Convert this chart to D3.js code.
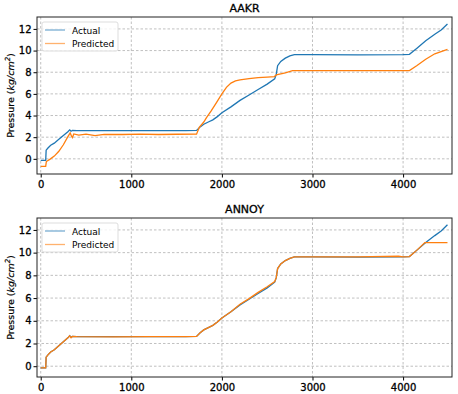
<!DOCTYPE html>
<html>
<head>
<meta charset="utf-8">
<script src="https://d3js.org/d3.v7.min.js"></script>
<style>
  body { margin: 0; background: #fff; }
  text { font-family: "DejaVu Sans", sans-serif; fill: #000; }
</style>
</head>
<body>
<div id="vis"></div>
<script>
  // time index / pressure readings
  var actualT = [0, 55, 60, 80, 110, 150, 200, 250, 300, 320, 335, 350, 400, 800, 1200, 1600, 1720,
    1760, 1800, 1850, 1900, 1950, 2000, 2100, 2200, 2300, 2400, 2500, 2583, 2600, 2615, 2650, 2700,
    2750, 2800, 3000, 3500, 4000, 4070, 4150, 4250, 4350, 4420, 4490];
  var actualP = [-0.15, -0.15, 0.8, 1.0, 1.25, 1.45, 1.8, 2.15, 2.5, 2.68, 2.55, 2.62, 2.6, 2.6, 2.6, 2.6, 2.62,
    2.95, 3.2, 3.4, 3.6, 3.9, 4.25, 4.8, 5.4, 5.9, 6.4, 6.9, 7.4, 7.8, 8.6, 9.0, 9.3,
    9.5, 9.62, 9.62, 9.6, 9.62, 9.65, 10.2, 10.9, 11.5, 11.9, 12.45];

  var aakrT = [0, 55, 62, 100, 150, 200, 250, 300, 325, 340, 350, 365, 420, 500, 600, 700, 900, 1100,
    1300, 1500, 1720, 1750, 1800, 1830, 1880, 1940, 2000, 2050, 2100, 2150, 2200, 2300, 2400, 2500,
    2580, 2600, 2700, 2780, 3000, 3500, 4070, 4150, 4250, 4350, 4490];
  var aakrP = [-0.7, -0.7, -0.25, -0.05, 0.25, 0.7, 1.3, 2.05, 2.4, 2.1, 1.97, 2.3, 2.2, 2.28, 2.15, 2.25, 2.25, 2.28,
    2.25, 2.27, 2.28, 2.9, 3.4, 3.8, 4.4, 5.2, 6.0, 6.6, 7.0, 7.2, 7.3, 7.4, 7.5, 7.55,
    7.6, 7.75, 7.95, 8.15, 8.15, 8.15, 8.15, 8.6, 9.2, 9.7, 10.1];

  var annoyT = [0, 55, 60, 80, 110, 150, 200, 250, 300, 320, 335, 350, 400, 800, 1200, 1600, 1720,
    1760, 1800, 1850, 1900, 1950, 2000, 2100, 2200, 2300, 2400, 2500, 2583, 2600, 2615, 2650, 2700,
    2750, 2800, 3000, 3500, 3950, 4000, 4070, 4150, 4240, 4490];
  var annoyP = [-0.15, -0.15, 0.8, 1.0, 1.25, 1.45, 1.8, 2.15, 2.5, 2.68, 2.5, 2.62, 2.6, 2.58, 2.6, 2.6, 2.62,
    2.95, 3.2, 3.4, 3.6, 3.9, 4.25, 4.8, 5.45, 5.95, 6.5, 7.0, 7.45, 7.8, 8.6, 9.0, 9.3,
    9.5, 9.62, 9.62, 9.62, 9.68, 9.62, 9.65, 10.2, 10.88, 10.88];

  var xTicks = [0, 1000, 2000, 3000, 4000];
  var yTicks = [0, 2, 4, 6, 8, 10, 12];
  var seriesNames = ['Actual', 'Predicted'];
  var colors = ['#1f77b4', '#ff7f0e'];

  var W = 458, H = 394;
  var svg = d3.select('#vis').append('svg')
    .attr('width', W).attr('height', H);

  function zip(t, p) {
    return t.map(function(d, i) { return [d, p[i]]; });
  }

  function panel(title, top, bottom, yDomain, predT, predP) {
    var x = d3.scaleLinear().domain([-41, 4540]).range([37, 452]);
    var y = d3.scaleLinear().domain(yDomain).range([bottom, top]);

    var g = svg.append('g');

    // grid
    g.append('g').selectAll('line').data(xTicks).enter().append('line')
      .attr('x1', function(d) { return x(d); }).attr('x2', function(d) { return x(d); })
      .attr('y1', top).attr('y2', bottom)
      .attr('stroke', '#b0b0b0').attr('stroke-width', 0.8).attr('stroke-dasharray', '2.5,2');
    g.append('g').selectAll('line').data(yTicks).enter().append('line')
      .attr('y1', function(d) { return y(d); }).attr('y2', function(d) { return y(d); })
      .attr('x1', 37).attr('x2', 452)
      .attr('stroke', '#b0b0b0').attr('stroke-width', 0.8).attr('stroke-dasharray', '2.5,2');

    var line = d3.line().x(function(d) { return x(d[0]); }).y(function(d) { return y(d[1]); });

    g.append('path').datum(zip(actualT, actualP))
      .attr('d', line).attr('fill', 'none')
      .attr('stroke', colors[0]).attr('stroke-width', 1.3);
    g.append('path').datum(zip(predT, predP))
      .attr('d', line).attr('fill', 'none')
      .attr('stroke', colors[1]).attr('stroke-width', 1.3);

    // axes
    g.append('g')
      .attr('transform', 'translate(0,' + bottom + ')')
      .call(d3.axisBottom(x).tickValues(xTicks).tickSize(3.5).tickPadding(3).tickFormat(d3.format('d')));
    g.append('g')
      .attr('transform', 'translate(37,0)')
      .call(d3.axisLeft(y).tickValues(yTicks).tickSize(3.5).tickPadding(2));
    g.selectAll('.domain').remove();
    g.selectAll('.tick text').style('font-size', '10px').attr('font-family', 'DejaVu Sans')
      .attr('stroke', '#000').attr('stroke-width', 0.3);
    g.selectAll('.tick line').attr('stroke', '#000');

    g.append('rect')
      .attr('x', 37).attr('y', top).attr('width', 452 - 37).attr('height', bottom - top)
      .attr('fill', 'none').attr('stroke', '#222').attr('stroke-width', 1);

    g.append('text')
      .attr('x', 244.5).attr('y', top - 5)
      .attr('text-anchor', 'middle')
      .style('font-size', '11px')
      .attr('stroke', '#000').attr('stroke-width', 0.3)
      .text(title);

    var yl = g.append('text')
      .attr('transform', 'translate(14,' + ((top + bottom) / 2) + ') rotate(-90)')
      .attr('text-anchor', 'middle')
      .attr('stroke', '#000').attr('stroke-width', 0.2)
      .style('font-size', '9.5px');
    yl.append('tspan').text('Pressure (');
    yl.append('tspan').style('font-style', 'italic').text('kg/cm');
    yl.append('tspan').style('font-style', 'italic').style('font-size', '7px').attr('dy', -4).text('2');
    yl.append('tspan').attr('dy', 4).text(')');

    // legend
    var lg = g.append('g').attr('transform', 'translate(42,' + (top + 5) + ')');
    lg.append('rect').attr('width', 76).attr('height', 29).attr('rx', 2)
      .attr('fill', '#fff').attr('fill-opacity', 0.8).attr('stroke', '#ddd');
    seriesNames.forEach(function(name, i) {
      lg.append('line').attr('x1', 3).attr('x2', 23)
        .attr('y1', 8 + i * 13.5).attr('y2', 8 + i * 13.5)
        .attr('stroke', colors[i]).attr('stroke-width', 1.3).attr('stroke-opacity', 0.6);
      lg.append('text').attr('x', 30).attr('y', 11.5 + i * 13.5)
        .style('font-size', '9px').text(name);
    });
  }

  panel('AAKR', 17, 174, [-1.4, 13.1], aakrT, aakrP);
  panel('ANNOY', 218, 377, [-0.95, 13.05], annoyT, annoyP);
</script>
</body>
</html>
